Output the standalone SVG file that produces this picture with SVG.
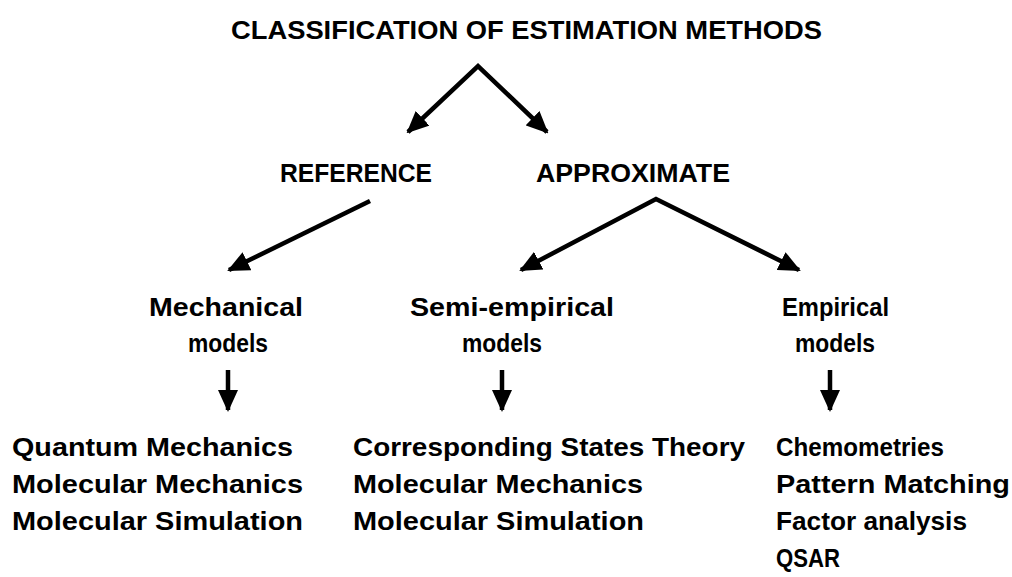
<svg xmlns="http://www.w3.org/2000/svg" width="1012" height="577" viewBox="0 0 1012 577">
<style>
text{font-family:"Liberation Sans",Arial,sans-serif;font-weight:bold;font-size:26px;fill:#000}
.ln{fill:none;stroke:#000;stroke-width:4.5;stroke-linejoin:miter}
</style>
<defs>
<marker id="ah" markerUnits="userSpaceOnUse" markerWidth="22" markerHeight="20" viewBox="0 0 22 20" refX="20" refY="10" orient="auto-start-reverse">
<path d="M0,0 L22,10 L0,20 Z" fill="#000"/>
</marker>
</defs>
<rect width="1012" height="577" fill="#fff"/>
<g id="title"><text x="231" y="39" textLength="591" lengthAdjust="spacingAndGlyphs">CLASSIFICATION OF ESTIMATION METHODS</text></g>
<g id="reference"><text x="280" y="182" textLength="152" lengthAdjust="spacingAndGlyphs">REFERENCE</text></g>
<g id="approximate"><text x="536" y="182" textLength="194" lengthAdjust="spacingAndGlyphs">APPROXIMATE</text></g>
<g id="mechanical">
<text x="149" y="316" textLength="154" lengthAdjust="spacingAndGlyphs">Mechanical</text>
<text x="188" y="352" textLength="80" lengthAdjust="spacingAndGlyphs">models</text>
</g>
<g id="semiempirical">
<text x="410" y="316" textLength="204" lengthAdjust="spacingAndGlyphs">Semi-empirical</text>
<text x="462" y="352" textLength="80" lengthAdjust="spacingAndGlyphs">models</text>
</g>
<g id="empirical">
<text x="782" y="316" textLength="107" lengthAdjust="spacingAndGlyphs">Empirical</text>
<text x="795" y="352" textLength="80" lengthAdjust="spacingAndGlyphs">models</text>
</g>
<g id="list-mechanical">
<text x="12" y="456" textLength="281" lengthAdjust="spacingAndGlyphs">Quantum Mechanics</text>
<text x="12" y="493" textLength="291" lengthAdjust="spacingAndGlyphs">Molecular Mechanics</text>
<text x="12" y="530" textLength="291" lengthAdjust="spacingAndGlyphs">Molecular Simulation</text>
</g>
<g id="list-semiempirical">
<text x="353" y="456" textLength="392" lengthAdjust="spacingAndGlyphs">Corresponding States Theory</text>
<text x="353" y="493" textLength="290" lengthAdjust="spacingAndGlyphs">Molecular Mechanics</text>
<text x="353" y="530" textLength="291" lengthAdjust="spacingAndGlyphs">Molecular Simulation</text>
</g>
<g id="list-empirical">
<text x="776" y="456" textLength="168" lengthAdjust="spacingAndGlyphs">Chemometries</text>
<text x="776" y="493" textLength="234" lengthAdjust="spacingAndGlyphs">Pattern Matching</text>
<text x="776" y="530" textLength="191" lengthAdjust="spacingAndGlyphs">Factor analysis</text>
<text x="776" y="567" textLength="64" lengthAdjust="spacingAndGlyphs">QSAR</text>
</g>
<g id="connectors">
<path class="ln" d="M408,132 L478,66 L547,132" marker-start="url(#ah)" marker-end="url(#ah)"/>
<path class="ln" d="M370,201 L229,270" marker-end="url(#ah)"/>
<path class="ln" d="M521,270 L656,199 L799,270" marker-start="url(#ah)" marker-end="url(#ah)"/>
<path class="ln" d="M228,370 L228,410" marker-end="url(#ah)"/>
<path class="ln" d="M502,370 L502,410" marker-end="url(#ah)"/>
<path class="ln" d="M830,370 L830,410" marker-end="url(#ah)"/>
</g>
</svg>
